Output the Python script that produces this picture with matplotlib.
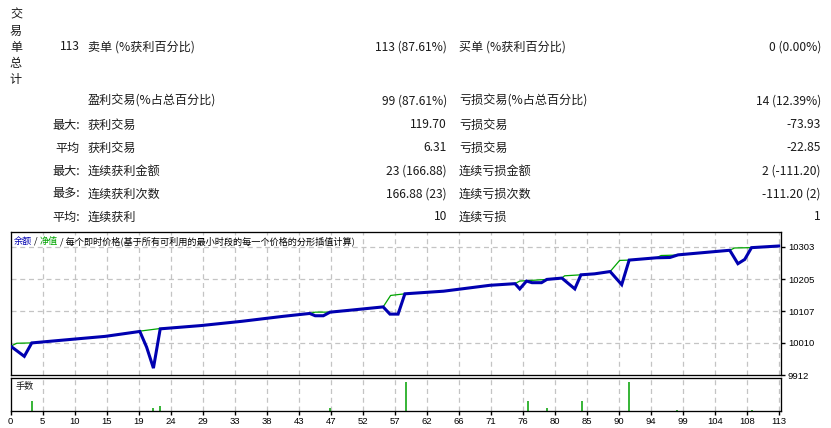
import matplotlib
matplotlib.use("Agg")
import matplotlib.pyplot as plt
from matplotlib.ticker import FixedLocator, NullLocator

plt.rcParams['font.family'] = ['Noto Sans CJK SC', 'DejaVu Sans']

# ---------------- data ----------------
side_title = "交易单总计"
row_left_prefix = ["113", "", "最大:", "平均", "最大:", "最多:", "平均:"]
row_left_label = ["卖单 (%获利百分比)", "盈利交易(%占总百分比)", "获利交易", "获利交易",
                  "连续获利金额", "连续获利次数", "连续获利"]
row_left_value = ["113 (87.61%)", "99 (87.61%)", "119.70", "6.31",
                  "23 (166.88)", "166.88 (23)", "10"]
row_right_label = ["买单 (%获利百分比)", "亏损交易(%占总百分比)", "亏损交易", "亏损交易",
                   "连续亏损金额", "连续亏损次数", "连续亏损"]
row_right_value = ["0 (0.00%)", "14 (12.39%)", "-73.93", "-22.85",
                   "2 (-111.20)", "-111.20 (2)", "1"]

balance_x = [0, 2.0, 3.1, 9.0, 13.9, 19.0, 20.0, 21.0, 22.0, 28, 34, 40, 44.0, 44.8, 46.0,
             47.0, 50, 54.8, 55.8, 57.0, 58.0, 63.7, 70.5, 74.2, 74.9, 75.9, 76.7, 78.1,
             78.9, 81.1, 83.0, 83.9, 85.9, 88.2, 89.9, 91.0, 95.0, 97.0, 98.2, 105.8,
             107.0, 108.0, 109.0, 113]
balance_y = [10000, 9969, 10010, 10021, 10030, 10045, 9997, 9933, 10053, 10063, 10076,
             10091, 10100, 10093, 10093, 10104, 10110, 10120, 10098, 10098, 10160, 10168,
             10186, 10191, 10175, 10199, 10194, 10194, 10204, 10208, 10175, 10218, 10221,
             10228, 10188, 10263, 10270, 10271, 10279, 10293, 10252, 10265, 10301, 10306]

equity_x = [0, 0.9, 3.1, 9.0, 13.9, 19.0, 22.0, 28, 34, 40, 44.0, 44.8, 47.0, 50, 54.8,
            55.9, 58.0, 63.7, 70.5, 74.2, 74.9, 75.9, 78.9, 81.1, 81.5, 83.9, 85.9, 88.2,
            89.6, 91.0, 95.0, 95.7, 97.5, 98.2, 105.8, 106.5, 109.0, 113]
equity_y = [10000, 10009, 10010, 10021, 10030, 10046, 10054, 10063, 10076, 10091, 10100,
            10104, 10104, 10110, 10120, 10155, 10160, 10168, 10186, 10191, 10199, 10200,
            10204, 10208, 10215, 10218, 10221, 10228, 10262, 10263, 10270, 10277, 10278,
            10279, 10293, 10300, 10301, 10306]

lots_x = [3.1, 21.0, 22.0, 47.0, 58.1, 76.1, 78.9, 84.0, 91.0, 98.1, 109.0]
lots_y = [0.3, 0.1, 0.16, 0.1, 0.9, 0.3, 0.1, 0.3, 0.9, 0.03, 0.03]

x_tick_labels = ["0", "5", "10", "15", "19", "24", "29", "33", "38", "43", "47", "52", "57",
                 "62", "66", "71", "76", "80", "85", "90", "94", "99", "104", "108", "113"]
y_tick_labels = ["9912", "10010", "10107", "10205", "10303"]

# ---------------- figure ----------------
W, H = 831, 428
fig = plt.figure(figsize=(W / 100, H / 100), dpi=100)
fig.patch.set_facecolor("white")

def fx(x):
    return x / W

def fy(y):
    return 1 - y / H

TXT = "#1a1a1a"
FS = 8.7
for i, ch in enumerate(side_title):
    fig.text(fx(16), fy(15 + 16 * i), ch, ha="center", va="center", fontsize=FS, color=TXT)

row_y = [47, 101, 125, 148, 171, 194, 217]
for i, yy in enumerate(row_y):
    if row_left_prefix[i]:
        fig.text(fx(80), fy(yy), row_left_prefix[i], ha="right", va="center", fontsize=FS, color=TXT)
    fig.text(fx(88), fy(yy), row_left_label[i], ha="left", va="center", fontsize=FS, color=TXT)
    fig.text(fx(447), fy(yy), row_left_value[i], ha="right", va="center", fontsize=FS, color=TXT)
    fig.text(fx(459), fy(yy), row_right_label[i], ha="left", va="center", fontsize=FS, color=TXT)
    fig.text(fx(821), fy(yy), row_right_value[i], ha="right", va="center", fontsize=FS, color=TXT)

# axes geometry
L, R = 10.7, 781
top_main, bot_main = 232, 375
top_low, bot_low = 377.5, 411
ax = fig.add_axes([fx(L), fy(bot_main), (R - L) / W, (bot_main - top_main) / H])
axl = fig.add_axes([fx(L), fy(bot_low), (R - L) / W, (bot_low - top_low) / H])

xmax = 113.34
xt = [k * 113 / 24 for k in range(len(x_tick_labels))]
yt = [float(v) for v in y_tick_labels]

grid_kw = dict(color="#c4c4c4", linestyle=(0, (4, 3)), linewidth=0.9)

for a in (ax, axl):
    a.set_xlim(0, xmax)
    a.set_facecolor("white")
    for s in a.spines.values():
        s.set_linewidth(0.95)
        s.set_color("black")
    a.xaxis.set_major_locator(FixedLocator(xt))
    a.grid(False)
    for x in xt[1:]:
        a.axvline(x, zorder=0, **grid_kw)

# main chart
ax.set_ylim(9912, 10348.8)
for y in yt[1:]:
    ax.axhline(y, zorder=0, **grid_kw)
ax.plot(equity_x, equity_y, color="#00a400", linewidth=0.9, zorder=2)
ax.plot(balance_x, balance_y, color="#0000b0", linewidth=2.2, zorder=3,
        solid_joinstyle="miter")
ax.yaxis.tick_right()
ax.yaxis.set_major_locator(FixedLocator(yt))
ax.set_yticklabels(y_tick_labels)
ax.tick_params(axis="y", direction="out", length=3, width=1, pad=2,
               labelsize=6.8, labelcolor="black")
for lab in ax.get_yticklabels():
    lab.set_family(["Liberation Sans", "DejaVu Sans"])
ax.tick_params(axis="x", bottom=False, labelbottom=False)

# legend text
t1 = ax.text(0.0045, 0.935, "余额", transform=ax.transAxes, fontsize=6.6,
             color="#0000b0", va="center", ha="left")
fig.canvas.draw()
t2 = ax.annotate(" / ", xycoords=t1, xy=(1, 0.5), va="center", ha="left",
                 fontsize=6.6, color="black")
t3 = ax.annotate("净值", xycoords=t2, xy=(1, 0.5), va="center", ha="left",
                 fontsize=6.6, color="#00a400")
t4 = ax.annotate(" / 每个即时价格(基于所有可利用的最小时段的每一个价格的分形插值计算)",
                 xycoords=t3, xy=(1, 0.5), va="center", ha="left",
                 fontsize=6.6, color="black")

# lots panel
axl.set_ylim(0, 1.044)
axl.vlines(lots_x, 0, lots_y, color="#00a000", linewidth=1.1)
axl.yaxis.set_major_locator(NullLocator())
axl.set_xticklabels(x_tick_labels)
axl.tick_params(axis="x", direction="out", length=3, width=1, pad=1.5,
                labelsize=6.8, labelcolor="black")
for lab in axl.get_xticklabels():
    lab.set_family(["Liberation Sans", "DejaVu Sans"])
axl.text(0.006, 0.72, "手数", transform=axl.transAxes, fontsize=6.6,
         color=TXT, va="center", ha="left")

fig.savefig("out.png", dpi=100, facecolor="white")
